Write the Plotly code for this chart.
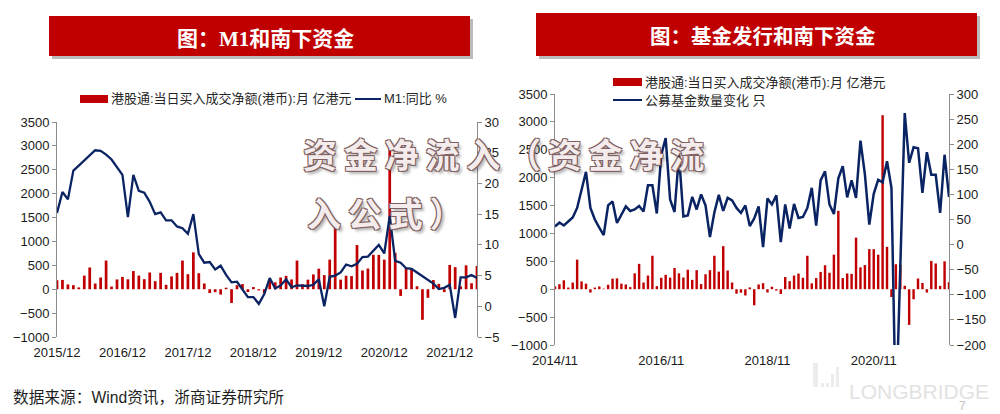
import plotly.graph_objects as go
import pandas as pd

# ---------------- data ----------------
# monthly categories 2014/11 .. 2022/05
months_all = [p.strftime("%Y/%m") for p in pd.period_range("2014-11", "2022-05", freq="M")]

# 港股通:当日买入成交净额(港币):月, 亿港元 (2014/11 .. 2022/05)
southbound = [
    50, 90, 160, 30, 120, 530, 140, 100, -60, 30, 50, 10, 80,          # 2014/11-2015/11
    190, 195, 100, 85, 38, 285, 455, 120, 245, 600, 55, 205,           # 2015/12-2016/11
    258, 208, 380, 285, 210, 350, 168, 342, 92, 268, 342, 600,         # 2016/12-2017/11
    315, 772, 335, 120, -80, -62, -112, 32, -288, 85, 108, -58,        # 2017/12-2018/11
    45, -25, -85, 218, 145, 245, 280, 205, 600, 105, 200, 310,         # 2018/12-2019/11
    430, 295, 620, 1405, 200, 283, 275, 925, 392, 433, 720, 718,       # 2019/12-2020/11
    620, 3120, 760, -140, 448, 440, 62, -640, -180, 192, 112, -60,     # 2020/12-2021/11
    508, 462, 60, 500, 125, 485,                                       # 2021/12-2022/05
]

# M1:同比 % (2015/12 .. 2022/05)
m1_yoy = [
    15.2,
    18.6, 17.4, 22.1, 22.9, 23.7, 24.6, 25.4, 25.3, 24.7, 23.9, 22.7, 21.4,
    14.5, 21.4, 18.8, 18.5, 17.0, 15.0, 15.3, 14.0, 14.0, 13.0, 12.7, 11.8,
    15.0, 8.5, 7.1, 7.2, 6.0, 6.6, 5.1, 3.9, 4.0, 2.7, 1.5, 1.5,
    0.4, 2.0, 4.6, 2.9, 3.4, 4.4, 3.1, 3.4, 3.4, 3.3, 3.5, 4.4,
    0.0, 4.8, 5.0, 5.5, 6.8, 6.5, 6.9, 8.0, 8.1, 9.1, 10.0, 8.6,
    14.7, 7.4, 7.1, 6.2, 6.1, 5.5, 4.9, 4.2, 3.7, 2.8, 3.0, 3.5,
    -1.9, 4.7, 4.7, 5.1, 4.6,
]

# 公募基金数量变化 只 (2014/11 .. 2022/04)
fund_change = [
    36, 44, 38, 46, 54, 73, 112, 145, 73, 50, 34, 19, 78,
    86, 43, 60, 76, 67, 70, 77, 66, 118, 118, 62, 179,
    212, 90, 65, 179, 56, 58, 95, 70, 100, 78, 15, 64,
    99, 67, 93, 88, 73, 63, 78, 37, 52, 76, -5, 92,
    80, 98, 5, 80, 32, 81, 53, 55, 73, 113, 38, 128,
    146, 80, 61, 132, 156, 94, 128, 93, 207, 140, 40, 101,
    129, 124, 166, 113, -350, -50, 262, 163, 194, 192, 103, 184,
    139, 139, 63, 179, 95,
]

left_months = months_all[13:]          # 2015/12 .. 2022/05
right_months = months_all[:90]         # 2014/11 .. 2022/04
left_bars = southbound[13:]
right_bars = southbound[:90]

left_ticks = ["2015/12", "2016/12", "2017/12", "2018/12", "2019/12", "2020/12", "2021/12"]
right_ticks = ["2014/11", "2016/11", "2018/11", "2020/11"]

left_title = "图：<span style='font-family:Liberation Serif'>M1</span>和南下资金"
right_title = "图：基金发行和南下资金"
bar_name = "港股通:当日买入成交净额(港币):月 亿港元"
m1_name = "M1:同比 %"
fund_name = "公募基金数量变化 只"
source_text = "数据来源：Wind资讯，浙商证券研究所"
wm_line1 = "资金净流入（资金净流"
wm_line2 = "入公式）"

# ---------------- styling ----------------
W, H = 1000, 414
RED = "#C00000"
NAVY = "#0A2463"
AXIS = "#8c8c8c"
TXT = "#1a1a1a"
LAT = "Liberation Sans, Arial, Noto Sans CJK SC"
CJK = "Noto Sans CJK SC, Liberation Sans"


def px(x):
    return x / W


def py(y):
    return 1 - y / H


fig = go.Figure()
fig.add_trace(go.Bar(x=left_months, y=left_bars, marker_color=RED, width=0.5,
                     marker_line_width=0, xaxis="x", yaxis="y", showlegend=False))
fig.add_trace(go.Scatter(x=left_months, y=m1_yoy, mode="lines",
                         line=dict(color=NAVY, width=2.3),
                         xaxis="x", yaxis="y2", showlegend=False))
fig.add_trace(go.Bar(x=right_months, y=right_bars, marker_color=RED, width=0.55,
                     marker_line_width=0, xaxis="x2", yaxis="y3", showlegend=False))
fig.add_trace(go.Scatter(x=right_months, y=fund_change, mode="lines",
                         line=dict(color=NAVY, width=2.5),
                         xaxis="x2", yaxis="y4", showlegend=False))

tickfont = dict(family=LAT, size=13, color=TXT)
yax_common = dict(showgrid=False, zeroline=False, showline=True, linecolor=AXIS,
                  linewidth=1, ticks="outside", ticklen=4, tickcolor=AXIS,
                  tickfont=tickfont, fixedrange=True, automargin=False)
xax_common = dict(type="category", showgrid=False, zeroline=False, showline=False,
                  ticks="", tickfont=tickfont, ticklabelstandoff=6, fixedrange=True,
                  tickangle=0, automargin=False)

fig.update_layout(
    template="none",
    width=W, height=H, autosize=False,
    margin=dict(l=0, r=0, t=0, b=0, pad=0),
    paper_bgcolor="white", plot_bgcolor="white",
    bargap=0.4,
    xaxis=dict(domain=[px(57), px(477)], anchor="y", range=[0, len(left_months) - 1],
               tickvals=left_ticks, ticktext=left_ticks, **xax_common),
    yaxis=dict(domain=[py(337), py(122)], range=[-1000, 3500], dtick=500, anchor="x",
               **yax_common),
    yaxis2=dict(overlaying="y", side="right", anchor="x", range=[-5, 30], dtick=5,
                **yax_common),
    xaxis2=dict(domain=[px(555), px(949)], anchor="y3", range=[0, len(right_months) - 1],
                tickvals=right_ticks, ticktext=right_ticks, **xax_common),
    yaxis3=dict(domain=[py(345), py(94)], range=[-1000, 3500], dtick=500, anchor="x2",
                **yax_common),
    yaxis4=dict(overlaying="y3", side="right", anchor="x2", range=[-200, 300], dtick=50,
                **yax_common),
)

shapes = []
# title banners with shadow
for (x0, x1, y0, y1) in [(49, 470, 16, 56), (536, 977, 13, 56)]:
    shapes.append(dict(type="rect", xref="paper", yref="paper",
                       x0=px(x0 + 3), x1=px(x1 + 3), y0=py(y1 + 3), y1=py(y0 + 3),
                       fillcolor="rgba(60,60,60,0.35)", line=dict(width=0), layer="below"))
    shapes.append(dict(type="rect", xref="paper", yref="paper",
                       x0=px(x0), x1=px(x1), y0=py(y1), y1=py(y0),
                       fillcolor=RED, line=dict(width=0), layer="below"))

# legend keys
shapes.append(dict(type="rect", xref="paper", yref="paper", x0=px(80), x1=px(108),
                   y0=py(103), y1=py(95), fillcolor=RED, line=dict(width=0)))
shapes.append(dict(type="line", xref="paper", yref="paper", x0=px(355), x1=px(381),
                   y0=py(99), y1=py(99), line=dict(color=NAVY, width=2)))
shapes.append(dict(type="rect", xref="paper", yref="paper", x0=px(613), x1=px(642),
                   y0=py(86), y1=py(78), fillcolor=RED, line=dict(width=0)))
shapes.append(dict(type="line", xref="paper", yref="paper", x0=px(613), x1=px(642),
                   y0=py(100), y1=py(100), line=dict(color=NAVY, width=2)))

# faint logo bars (LONGBRIDGE watermark)
for (x0, x1, y0, y1) in [(813, 818, 363, 387), (821, 824, 383, 387), (826, 829, 383, 387),
                         (831, 834, 374, 387), (836, 839, 367, 387)]:
    shapes.append(dict(type="rect", xref="paper", yref="paper", x0=px(x0), x1=px(x1),
                       y0=py(y1), y1=py(y0), fillcolor="#ececec", line=dict(width=0)))

annotations = []


def add_text(text, x, y, size, color, family=CJK, xanchor="left", weight=None, shadow=None):
    font = dict(family=family, size=size, color=color)
    if weight:
        font["weight"] = weight
    if shadow:
        font["shadow"] = shadow
    annotations.append(dict(text=text, x=px(x), y=py(y), xref="paper", yref="paper",
                            xanchor=xanchor, yanchor="middle", showarrow=False, font=font))


add_text(left_title, 265, 37, 21, "white", xanchor="center", weight=700)
add_text(right_title, 763, 35, 20.5, "white", xanchor="center", weight=700)
add_text(bar_name, 109, 99, 13, "#262626", family=LAT)
add_text(m1_name, 382, 99, 13, "#262626", family=LAT)
add_text(bar_name, 643, 82, 13, "#262626", family=LAT)
add_text(fund_name, 643, 101, 13, "#262626", family=LAT)
add_text(source_text, 11, 397, 15.7, "#1f1f1f", family=LAT)

wm_shadow = ("-1px -1px 0 #806060, 1px -1px 0 #806060, -1px 1px 0 #806060, "
             "1px 1px 0 #806060, 3px 3px 3px rgba(0,0,0,0.3)")
add_text("\u2009".join(wm_line1), 503, 153, 34, "#f4ecec", xanchor="center", weight=700,
         shadow=wm_shadow)
add_text("\u2009".join(wm_line2), 305, 212, 34, "#f4ecec", xanchor="left", weight=700,
         shadow=wm_shadow)

add_text("LONGBRIDGE", 847, 391, 21, "#e2e2e2", family="Liberation Sans")
add_text("7", 957, 406, 12, "#c4c4c4", family="Liberation Sans")

fig.update_layout(shapes=shapes, annotations=annotations)

fig.write_html("out.html", config={"displayModeBar": False, "staticPlot": True},
               post_script="document.body.style.margin='0';document.body.style.overflow='hidden';")
